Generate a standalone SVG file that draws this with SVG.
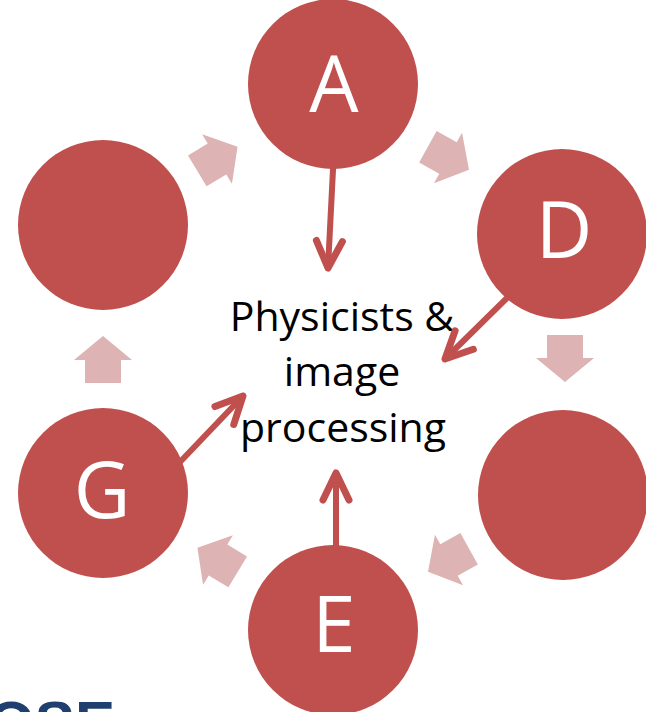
<svg xmlns="http://www.w3.org/2000/svg" xmlns:xlink="http://www.w3.org/1999/xlink" width="646" height="712" viewBox="0 0 646 712">
<style>
.node{fill:#C0504D}
.lbl{font-family:"Open Sans","Liberation Sans",sans-serif;font-size:78px;fill:#FFFFFF;text-anchor:middle}
.ctr{font-family:"Open Sans","Liberation Sans",sans-serif;font-size:41px;fill:#000000;text-anchor:middle}
.blk{fill:#DDB3B3}
.ptr{stroke:#C0504D;stroke-width:6;fill:none;stroke-linecap:round}
.brand{font-family:"Liberation Sans",sans-serif;font-size:60px;font-weight:bold;fill:#1F3F6E}
</style>
<defs>
<polygon id="blk" points="-23,-18 0,-18 0,-29 24,0 0,29 0,18 -23,18"/>
<marker id="vh" viewBox="-36 -20 42 40" markerWidth="42" markerHeight="40" refX="0" refY="0" markerUnits="userSpaceOnUse" orient="auto">
<path d="M-27,-13 L0,0 L-27,13" fill="none" stroke="#C0504D" stroke-width="7" stroke-linecap="round" stroke-linejoin="round"/>
</marker>
</defs>
<rect width="646" height="712" fill="#FFFFFF"/>
<g id="cycle-arrows">
<use xlink:href="#blk" class="blk" transform="translate(217,159) rotate(-31)"/>
<use xlink:href="#blk" class="blk" transform="translate(448,158) rotate(29)"/>
<use xlink:href="#blk" class="blk" transform="translate(565,358) rotate(90)"/>
<use xlink:href="#blk" class="blk" transform="translate(449,560) rotate(151)"/>
<use xlink:href="#blk" class="blk" transform="translate(218,560) rotate(211)"/>
<use xlink:href="#blk" class="blk" transform="translate(103,360) rotate(-90)"/>
</g>
<g id="node-A"><circle class="node" cx="333" cy="84" r="85"/><text class="lbl" x="334" y="112">A</text></g>
<g id="node-D"><circle class="node" cx="562" cy="234" r="85"/><text class="lbl" x="564" y="258">D</text></g>
<g id="node-BR"><circle class="node" cx="563" cy="495" r="85"/></g>
<g id="node-E"><circle class="node" cx="333" cy="630" r="85"/><text class="lbl" x="334" y="652">E</text></g>
<g id="node-G"><circle class="node" cx="103" cy="493" r="85"/><text class="lbl" x="102" y="518">G</text></g>
<g id="node-TL"><circle class="node" cx="103" cy="225" r="85"/></g>
<g id="center">
<text class="ctr" x="342" y="331">Physicists &amp;</text>
<text class="ctr" x="342" y="386">image</text>
<text class="ctr" x="343" y="442">processing</text>
</g>
<g id="connectors">
<line class="ptr" x1="334" y1="150" x2="328" y2="268" marker-end="url(#vh)"/>
<line class="ptr" x1="515" y1="290" x2="445" y2="359" marker-end="url(#vh)"/>
<line class="ptr" x1="180" y1="462" x2="243" y2="396" marker-end="url(#vh)"/>
<line class="ptr" x1="336" y1="548" x2="336" y2="473" marker-end="url(#vh)"/>
</g>
<text class="brand" x="-12" y="743" textLength="127" lengthAdjust="spacingAndGlyphs">OSE</text>
</svg>
